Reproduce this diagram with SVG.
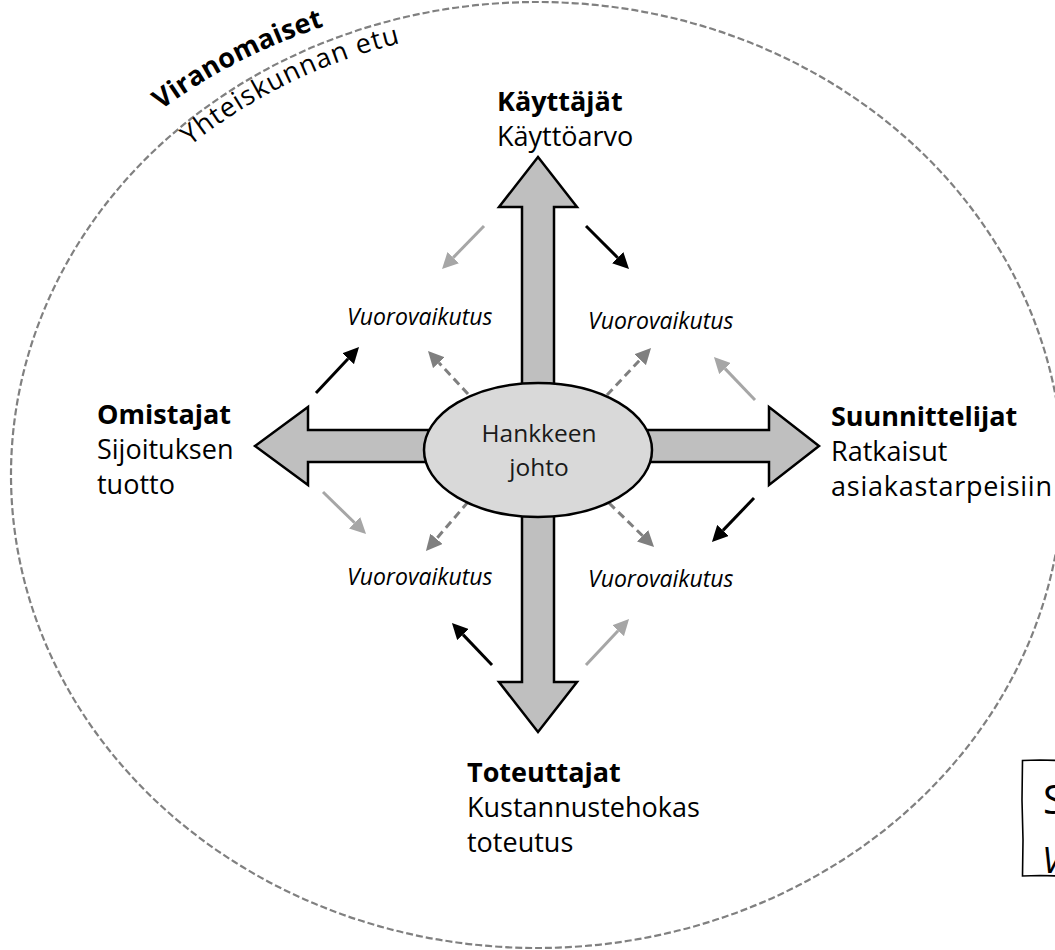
<svg xmlns="http://www.w3.org/2000/svg" width="1055" height="950" viewBox="0 0 1055 950">
<style>
.lbl{font-family:"Open Sans","Noto Sans",sans-serif;font-size:27px;fill:#000}
.b{font-weight:bold}
.vv{font-family:"Open Sans","Noto Sans",sans-serif;font-size:23px;font-style:italic;fill:#000}
.ctr{font-family:"Open Sans","Noto Sans",sans-serif;font-size:24.5px;fill:#1a1a1a}
.blk{stroke:#000;stroke-width:3;fill:none}
.lgt{stroke:#a6a6a6;stroke-width:3;fill:none}
.dsh{stroke:#7f7f7f;stroke-width:3;fill:none;stroke-dasharray:8 5}
</style>
<defs>
<marker id="hb" markerUnits="userSpaceOnUse" markerWidth="16" markerHeight="16" viewBox="0 0 16 16" refX="0" refY="8" orient="auto"><path d="M0,0 L16,8 L0,16 z" fill="#000"/></marker>
<marker id="hl" markerUnits="userSpaceOnUse" markerWidth="16" markerHeight="16" viewBox="0 0 16 16" refX="0" refY="8" orient="auto"><path d="M0,0 L16,8 L0,16 z" fill="#a6a6a6"/></marker>
<marker id="hd" markerUnits="userSpaceOnUse" markerWidth="16" markerHeight="16" viewBox="0 0 16 16" refX="0" refY="8" orient="auto"><path d="M0,0 L16,8 L0,16 z" fill="#7f7f7f"/></marker>
<path id="arcV" d="M161,110 A560,480 0 0 1 534,-6"/>
<path id="arcY" d="M190,146 A515,445 0 0 1 534,26"/>
</defs>
<rect width="1055" height="950" fill="#fff"/>

<g id="viranomaiset">
<ellipse cx="537" cy="475" rx="526" ry="473" fill="none" stroke="#808080" stroke-width="2.2" stroke-dasharray="7 3"/>
<text class="lbl b" font-size="26"><textPath href="#arcV" textLength="184" lengthAdjust="spacing">Viranomaiset</textPath></text>
<text class="lbl" font-size="25.5"><textPath href="#arcY" textLength="236" lengthAdjust="spacing">Yhteiskunnan etu</textPath></text>
</g>

<g id="cross">
<polygon points="538,157 577,207 554,207 554,430 769,430 769,407 819,446 769,485 769,462 554,462 554,682 577,682 538,732 499,682 522,682 522,462 308,462 308,485 255,446 308,407 308,430 522,430 522,207 499,207" fill="#bfbfbf" stroke="#000" stroke-width="2.5" stroke-linejoin="miter"/>
</g>

<g id="connectors">
<line class="lgt" x1="484" y1="226" x2="453.2" y2="257.6" marker-end="url(#hl)"/>
<line class="blk" x1="316" y1="393" x2="348.1" y2="358.7" marker-end="url(#hb)"/>
<line class="dsh" x1="468" y1="394" x2="438.9" y2="362.7" marker-end="url(#hd)"/>
<line class="blk" x1="586" y1="226" x2="617.7" y2="257.7" marker-end="url(#hb)"/>
<line class="dsh" x1="607" y1="395" x2="640.1" y2="359.7" marker-end="url(#hd)"/>
<line class="lgt" x1="755" y1="400" x2="725" y2="368.6" marker-end="url(#hl)"/>
<line class="lgt" x1="323" y1="492" x2="354.6" y2="522.8" marker-end="url(#hl)"/>
<line class="dsh" x1="468" y1="502" x2="436.4" y2="538.8" marker-end="url(#hd)"/>
<line class="blk" x1="492" y1="665" x2="463" y2="634.6" marker-end="url(#hb)"/>
<line class="dsh" x1="609" y1="503" x2="642.6" y2="535.8" marker-end="url(#hd)"/>
<line class="blk" x1="754" y1="498" x2="723" y2="530.4" marker-end="url(#hb)"/>
<line class="lgt" x1="586" y1="665" x2="618.1" y2="630.7" marker-end="url(#hl)"/>
</g>

<g id="hankkeen-johto">
<ellipse cx="538" cy="450" rx="114" ry="67" fill="#d9d9d9" stroke="#000" stroke-width="2.5"/>
<text class="ctr" x="539" y="442" text-anchor="middle">Hankkeen</text>
<text class="ctr" x="539" y="476" text-anchor="middle">johto</text>
</g>

<g id="kayttajat">
<text class="lbl b" x="497" y="111">Käyttäjät</text>
<text class="lbl" x="497" y="146">Käyttöarvo</text>
</g>

<g id="omistajat">
<text class="lbl b" x="97" y="424">Omistajat</text>
<text class="lbl" x="97" y="459">Sijoituksen</text>
<text class="lbl" x="97" y="494">tuotto</text>
</g>

<g id="suunnittelijat">
<text class="lbl b" x="831" y="426">Suunnittelijat</text>
<text class="lbl" x="831" y="461">Ratkaisut</text>
<text class="lbl" x="831" y="496" textLength="221" lengthAdjust="spacing">asiakastarpeisiin</text>
</g>

<g id="toteuttajat">
<text class="lbl b" x="467" y="782">Toteuttajat</text>
<text class="lbl" x="467" y="817">Kustannustehokas</text>
<text class="lbl" x="467" y="852">toteutus</text>
</g>

<g id="vuorovaikutus">
<text class="vv" x="347" y="325">Vuorovaikutus</text>
<text class="vv" x="588" y="329">Vuorovaikutus</text>
<text class="vv" x="347" y="585">Vuorovaikutus</text>
<text class="vv" x="588" y="587">Vuorovaikutus</text>
</g>

<g id="legend-box">
<path d="M1060,760.5 L1040,760 L1022.5,760.5 L1022,800 L1023,840 L1022.5,876 L1040,875.5 L1060,876" fill="#fff" stroke="#000" stroke-width="1.6"/>
<text x="1043" y="814" font-family="Open Sans, sans-serif" font-size="40">S</text>
<text x="1042" y="873" font-family="Open Sans, sans-serif" font-size="36" font-style="italic">V</text>
</g>
</svg>
